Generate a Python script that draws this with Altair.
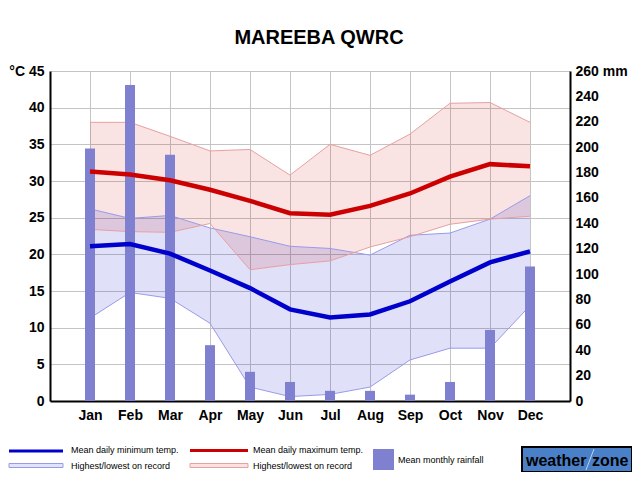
import altair as alt
import pandas as pd

months = ["Jan", "Feb", "Mar", "Apr", "May", "Jun", "Jul", "Aug", "Sep", "Oct", "Nov", "Dec"]
mean_max = [31.3, 30.9, 30.1, 28.8, 27.3, 25.6, 25.4, 26.6, 28.3, 30.6, 32.3, 32.0]
max_high = [38.0, 38.0, 36.1, 34.1, 34.3, 30.8, 35.0, 33.5, 36.4, 40.6, 40.7, 38.0]
max_low = [23.4, 23.1, 23.0, 24.2, 17.9, 18.6, 19.1, 21.0, 22.4, 24.1, 24.8, 25.2]
min_high = [26.2, 24.9, 25.3, 23.6, 22.4, 21.1, 20.8, 19.9, 22.6, 22.9, 24.8, 28.0]
mean_min = [21.1, 21.4, 20.1, 17.8, 15.4, 12.5, 11.4, 11.8, 13.6, 16.3, 18.9, 20.4]
min_low = [11.3, 14.8, 14.0, 10.6, 1.9, 0.6, 0.9, 1.9, 5.6, 7.2, 7.2, 13.0]
rain = [199, 249, 194, 44, 23, 15, 8, 8, 5, 15, 56, 106]

df = pd.DataFrame({
    "m": list(range(1, 13)),
    "mean_max": mean_max, "max_high": max_high, "max_low": max_low,
    "min_high": min_high, "mean_min": mean_min, "min_low": min_low,
    "rain": rain,
})

FONT = "Liberation Sans, Arial"
SMALL = "Liberation Sans, Arial"
GRID = "#c4c4c4"

month_expr = "[" + ",".join("'%s'" % m for m in months) + "][datum.value-1]"

X = alt.X("m:Q", scale=alt.Scale(domain=[0, 13], nice=False, zero=False, padding=0),
          axis=alt.Axis(values=list(range(1, 13)), labelExpr=month_expr, grid=True,
                        gridColor=GRID, gridWidth=1, ticks=False, domainColor="black",
                        domainWidth=2, labelFont=FONT, labelFontSize=14, labelFontWeight="bold",
                        labelColor="black", labelPadding=7, labelFlush=False, title=None))

tscale = alt.Scale(domain=[0, 45], nice=False, zero=True)
rscale = alt.Scale(domain=[0, 260], nice=False, zero=True)

left_axis = alt.Axis(values=list(range(0, 50, 5)),
                     labelExpr="datum.value == 45 ? '°C 45' : datum.label",
                     grid=True, gridColor=GRID, gridWidth=1, ticks=False,
                     domainColor="black", domainWidth=2, labelFont=FONT, labelFontSize=14,
                     labelFontWeight="bold", labelColor="black", labelPadding=6,
                     labelFlush=False, title=None)
right_axis = alt.Axis(orient="right", values=list(range(0, 280, 20)),
                      labelExpr="datum.value == 260 ? '260 mm' : datum.label",
                      grid=False, ticks=False, domainColor="black", domainWidth=2,
                      labelFont=FONT, labelFontSize=14, labelFontWeight="bold",
                      labelColor="black", labelPadding=5, labelFlush=False, title=None)

base = alt.Chart(df)

blue_area = base.mark_area(color="#0000c8", opacity=0.12).encode(
    x=X, y=alt.Y("min_low:Q", scale=tscale, axis=left_axis), y2="min_high:Q")
red_area = base.mark_area(color="#c80000", opacity=0.11).encode(
    x=X, y=alt.Y("max_low:Q", scale=tscale, axis=None), y2="max_high:Q")


def edge(field, color):
    return base.mark_line(color=color, strokeWidth=1).encode(
        x=X, y=alt.Y(field + ":Q", scale=tscale, axis=None))


edges = [edge("min_low", "#9a9aea"), edge("min_high", "#9a9aea"),
         edge("max_low", "#e8a0a0"), edge("max_high", "#e8a0a0")]

bars = base.mark_bar(size=10, color="#8080d0").encode(
    x=X, y=alt.Y("rain:Q", scale=rscale, axis=right_axis))

line_min = base.mark_line(color="#0000cc", strokeWidth=4.5).encode(
    x=X, y=alt.Y("mean_min:Q", scale=tscale, axis=None))
line_max = base.mark_line(color="#cc0000", strokeWidth=4.5).encode(
    x=X, y=alt.Y("mean_max:Q", scale=tscale, axis=None))

one = alt.Data(values=[{"a": 1}])


def txt(s, x, y, size=9, font=SMALL, weight="normal", align="left"):
    return alt.Chart(one).mark_text(align=align, baseline="middle", fontSize=size,
                                    font=font, fontWeight=weight, color="black").encode(
        x=alt.value(x), y=alt.value(y), text=alt.value(s))


def rule(x1, x2, y1, y2, color, w):
    return alt.Chart(one).mark_rule(color=color, strokeWidth=w).encode(
        x=alt.value(x1), x2=alt.value(x2), y=alt.value(y1), y2=alt.value(y2))


def box(x1, x2, y1, y2, fill, stroke, sw):
    return alt.Chart(one).mark_rect(fill=fill, stroke=stroke, strokeWidth=sw).encode(
        x=alt.value(x1), x2=alt.value(x2), y=alt.value(y1), y2=alt.value(y2))


title = txt("MAREEBA QWRC", 269, -33.5, size=20, font=FONT, weight="bold", align="center")

legend = [
    rule(-41, 13, 380, 380, "#0000cc", 3),
    txt("Mean daily minimum temp.", 21, 379),
    rule(140, 198, 379.5, 379.5, "#cc0000", 3),
    txt("Mean daily maximum temp.", 203, 379),
    box(-41, 13, 392.5, 396.5, "#e2e2f8", "#9a9aea", 1),
    txt("Highest/lowest on record", 21, 395),
    box(140, 198, 392.5, 396.5, "#f9e2e2", "#e8a0a0", 1),
    txt("Highest/lowest on record", 203, 395),
    box(323, 344, 378, 399, "#8080d0", "#8080d0", 0),
    txt("Mean monthly rainfall", 348, 389),
    box(472, 582, 376, 401, "#4a80c8", "black", 2),
    rule(536, 544, 399, 378, "#b8d4f0", 1),
    txt("weather", 476, 390, size=16, font=FONT, weight="bold"),
    txt("zone", 542, 390, size=16, font=FONT, weight="bold"),
]

chart = alt.layer(
    blue_area, red_area, *edges, bars, line_min, line_max, title, *legend
).resolve_scale(y="independent").properties(
    width=520, height=330,
    autosize=alt.AutoSizeParams(type="none"),
    padding={"left": 42, "top": 63, "right": 62, "bottom": 71},
    background="white",
).configure_view(stroke=None)

chart.save("out.html", embed_options={"renderer": "svg", "actions": False})
